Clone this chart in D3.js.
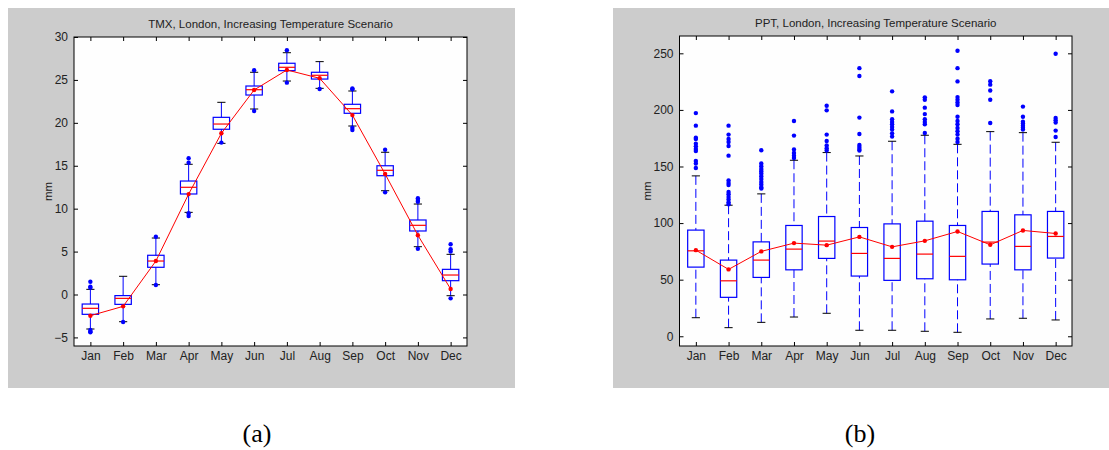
<!DOCTYPE html>
<html>
<head>
<meta charset="utf-8">
<style>
    body { margin: 0; background: #fff; }
    svg { display: block; }
    .tick text { font-family: 'Liberation Sans', Arial, sans-serif; font-size: 12px; fill: #222; }
    .ttl { font-family: 'Liberation Sans', Arial, sans-serif; font-size: 11.5px; fill: #222; }
</style>
</head>
<body>
<svg width="1109" height="450"></svg>
<script src="https://d3js.org/d3.v7.min.js"></script>
<script>
// month categories
const months = ["Jan","Feb","Mar","Apr","May","Jun","Jul","Aug","Sep","Oct","Nov","Dec"];

// TMX box stats
const tmxQ1  = [-2.31, -1.15, 3.17, 11.71, 19.25, 23.24, 26.08, 25.10, 21.11, 13.84, 7.40, 1.61];
const tmxMed = [-1.61, -0.45, 3.90, 12.49, 19.86, 23.86, 26.47, 25.54, 21.65, 14.47, 8.06, 2.27];
const tmxQ3  = [-1.11, -0.13, 4.57, 13.22, 20.64, 24.29, 26.94, 25.89, 22.16, 15.00, 8.68, 2.93];
const tmxLo  = [-4.02, -3.17, 1.14, 9.57, 17.61, 21.61, 24.87, 24.02, 19.63, 12.09, 5.57, -0.14];
const tmxHi  = [0.60, 2.12, 6.58, 15.17, 22.39, 25.89, 28.17, 27.13, 23.71, 16.57, 10.54, 4.68];
const tmxOut = [
    [1.49, 0.9, 0.8, -4.14, -4.3, -4.41], [-3.2], [6.73, 1.1], [15.87, 15.35, 9.46, 9.14],
    [17.7], [26.12, 21.38], [28.45, 24.68], [23.94], [24.02, 23.9, 19.43, 19.16],
    [16.87, 11.9], [11.21, 11.0, 10.8, 5.33], [5.85, 5.27, 5.0, -0.45]
];
const tmxObs = [-2.47, -1.38, 3.9, 11.7, 18.78, 23.83, 26.16, 25.19, 20.9, 14.04, 6.9, 0.64];

// PPT box stats
const pptQ1  = [61.1, 34.4, 52.0, 58.7, 68.8, 53.2, 49.4, 50.8, 49.9, 63.8, 58.7, 69.1];
const pptMed = [75.5, 49.0, 67.3, 77.0, 84.1, 73.2, 68.8, 72.6, 70.6, 83.2, 79.4, 88.2];
const pptQ3  = [93.8, 67.3, 83.4, 97.9, 105.8, 96.1, 99.3, 101.7, 97.9, 110.3, 107.3, 110.3];
const pptLo  = [16.4, 7.6, 12.3, 17.0, 20.3, 5.3, 5.3, 4.4, 3.5, 15.3, 15.9, 14.4];
const pptHi  = [141.7, 115.8, 125.8, 155.5, 162.3, 159.3, 172.3, 177.6, 169.6, 180.8, 179.9, 171.4];
const pptOut = [
    [197.2, 186.1, 175.5, 174.3, 170.2, 167.8, 165.5, 163.7, 154.9, 152.6, 148.7],
    [186.1, 178.2, 174.3, 171.6, 168.1, 159.6, 137.6, 135.5, 133.7, 127.5, 125.5, 123.1, 120.8, 118.5, 116.7],
    [164.3, 152.6, 150.2, 147.8, 145.8, 143.8, 141.4, 139.0, 136.4, 134.1, 131.7, 130.5],
    [190.2, 177.3, 165.0, 162.0, 159.6, 157.5],
    [203.7, 199.6, 178.2, 172.5, 168.5, 166.1, 164.1],
    [236.9, 229.9, 193.2, 178.7, 169.0, 167.3, 165.5, 164.1],
    [216.4, 198.7, 191.7, 189.3, 187.3, 184.9, 182.6, 179.3, 176.4],
    [211.1, 209.0, 202.0, 196.3, 191.7, 189.3, 187.3, 179.6],
    [252.3, 236.9, 225.2, 211.3, 209.0, 206.6, 204.3, 194.0, 190.2, 187.3, 184.0, 181.1, 178.2, 174.6, 171.6],
    [225.4, 222.3, 217.2, 209.0, 188.4],
    [202.9, 194.0, 189.6, 187.9, 186.1, 184.3, 182.6],
    [249.6, 192.8, 190.8, 188.8, 181.7, 176.1]
];
const pptObs = [76.1, 59.1, 75.0, 82.3, 80.5, 87.8, 79.0, 84.3, 92.6, 80.8, 93.5, 90.8];

let svg = d3.select("svg");

function drawPanel(o) {
    // grey figure background
    svg.append("rect")
        .attr("x", o.bg[0]).attr("y", o.bg[1])
        .attr("width", o.bg[2]).attr("height", o.bg[3])
        .attr("fill", "#cccccc");

    let g = svg.append("g").attr("transform", `translate(${o.left},${o.top})`);
    let w = o.width, h = o.height;

    g.append("rect").attr("width", w).attr("height", h).attr("fill", "#fefefe");

    let x = d3.scaleLinear().domain([0.5, 12.5]).range([0, w]);
    let y = d3.scaleLinear().domain(o.domain).range([h, 0]);
    let xt = months.map((m, i) => i + 1);
    let yt = d3.range(o.tickStart, o.domain[1] + 0.001, o.tickStep);

    // axes with inward ticks
    g.append("g").attr("transform", `translate(0,${h})`)
        .call(d3.axisBottom(x).tickValues(xt).tickFormat(d => months[d - 1]).tickSizeInner(-4).tickSizeOuter(0).tickPadding(5));
    g.append("g")
        .call(d3.axisTop(x).tickValues(xt).tickFormat("").tickSizeInner(-4).tickSizeOuter(0));
    g.append("g")
        .call(d3.axisLeft(y).tickValues(yt).tickSizeInner(-4).tickSizeOuter(0).tickPadding(6));
    g.append("g").attr("transform", `translate(${w},0)`)
        .call(d3.axisRight(y).tickValues(yt).tickFormat("").tickSizeInner(-4).tickSizeOuter(0));
    g.selectAll(".domain").remove();
    g.selectAll(".tick line").attr("stroke", "#000");

    let bw = x(1.25) - x(1);   // half box width
    let cw = x(1.125) - x(1);  // half cap width

    let items = months.map((m, i) => ({
        i: i + 1, q1: o.q1[i], med: o.med[i], q3: o.q3[i], lo: o.lo[i], hi: o.hi[i], out: o.out[i], obs: o.obs[i]
    }));

    let box = g.selectAll(".box").data(items).join("g").attr("class", "box");

    // whiskers
    box.append("line")
        .attr("x1", d => x(d.i)).attr("x2", d => x(d.i))
        .attr("y1", d => y(d.hi)).attr("y2", d => y(d.q3))
        .attr("stroke", "#0000ff").attr("stroke-width", 1)
        .attr("stroke-dasharray", o.dash);
    box.append("line")
        .attr("x1", d => x(d.i)).attr("x2", d => x(d.i))
        .attr("y1", d => y(d.lo)).attr("y2", d => y(d.q1))
        .attr("stroke", "#0000ff").attr("stroke-width", 1)
        .attr("stroke-dasharray", o.dash);
    // caps
    box.selectAll(".capl").data(d => [d.lo, d.hi].map(v => ({i: d.i, v: v}))).join("line")
        .attr("x1", d => x(d.i) - cw).attr("x2", d => x(d.i) + cw)
        .attr("y1", d => y(d.v)).attr("y2", d => y(d.v))
        .attr("stroke", "#000").attr("stroke-width", 1);
    // box
    box.append("rect")
        .attr("x", d => x(d.i) - bw).attr("width", 2 * bw)
        .attr("y", d => y(d.q3)).attr("height", d => y(d.q1) - y(d.q3))
        .attr("fill", "none").attr("stroke", "#0000ff").attr("stroke-width", 1.2);
    // median
    box.append("line")
        .attr("x1", d => x(d.i) - bw).attr("x2", d => x(d.i) + bw)
        .attr("y1", d => y(d.med)).attr("y2", d => y(d.med))
        .attr("stroke", "#ff0000").attr("stroke-width", 1.2);
    // outliers
    box.selectAll(".out").data(d => d.out.map(v => ({i: d.i, v: v}))).join("circle")
        .attr("cx", d => x(d.i)).attr("cy", d => y(d.v)).attr("r", 2.2)
        .attr("fill", "#0000ff");

    // observed line
    g.append("path")
        .datum(items)
        .attr("d", d3.line().x(d => x(d.i)).y(d => y(d.obs)))
        .attr("fill", "none").attr("stroke", "#ff0000").attr("stroke-width", 1);
    g.selectAll(".obs").data(items).join("circle")
        .attr("cx", d => x(d.i)).attr("cy", d => y(d.obs)).attr("r", 2.2)
        .attr("fill", "#ff0000");

    // frame
    g.append("rect").attr("width", w).attr("height", h)
        .attr("fill", "none").attr("stroke", "#000").attr("stroke-width", 1);

    g.append("text").attr("class", "ttl")
        .attr("x", w / 2).attr("y", -9).attr("text-anchor", "middle")
        .text(o.title);
    g.append("text").attr("class", "ttl")
        .attr("transform", `translate(${o.ylabX},${h / 2}) rotate(-90)`)
        .attr("text-anchor", "middle")
        .text("mm");

    svg.append("text")
        .attr("x", o.capX).attr("y", 442).attr("text-anchor", "middle")
        .attr("font-family", "'Liberation Serif', 'DejaVu Serif', 'Times New Roman', serif")
        .attr("font-size", 26).attr("fill", "#000")
        .text(o.cap);
}

drawPanel({
    bg: [8, 8, 507, 380], left: 74, top: 37, width: 393, height: 309,
    domain: [-6, 30], tickStart: -5, tickStep: 5, dash: null,
    q1: tmxQ1, med: tmxMed, q3: tmxQ3, lo: tmxLo, hi: tmxHi, out: tmxOut, obs: tmxObs,
    title: "TMX, London, Increasing Temperature Scenario", ylabX: -22, cap: "(a)", capX: 257
});
drawPanel({
    bg: [613, 8, 496, 380], left: 679.5, top: 36, width: 392.5, height: 310,
    domain: [-8.6, 265.3], tickStart: 0, tickStep: 50, dash: "9,4",
    q1: pptQ1, med: pptMed, q3: pptQ3, lo: pptLo, hi: pptHi, out: pptOut, obs: pptObs,
    title: "PPT, London, Increasing Temperature Scenario", ylabX: -29, cap: "(b)", capX: 860
});
</script>
</body>
</html>
